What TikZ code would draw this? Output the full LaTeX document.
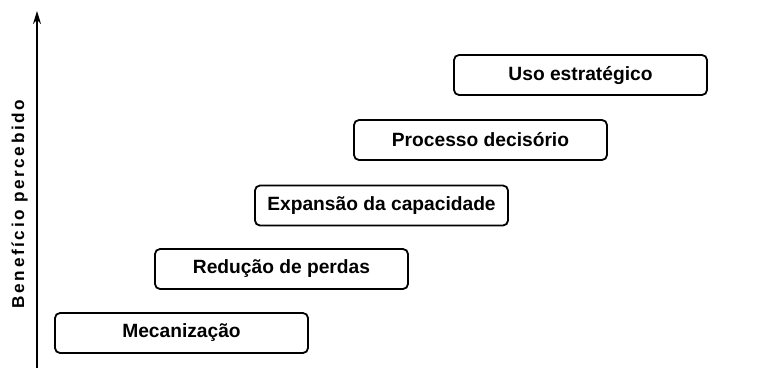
\documentclass[tikz,border=0pt]{standalone}
\usepackage{fontspec}
\setmainfont{Liberation Sans}
\newfontfamily\labfont[LetterSpace=15]{Liberation Sans}
\usetikzlibrary{arrows.meta}
\begin{document}
\begin{tikzpicture}[x=1pt,y=-1pt,
  stagebox/.style={draw=black,line width=1.8pt,rounded corners=5pt,
    minimum width=253pt,minimum height=40pt,inner sep=0pt,
    font=\fontsize{19.2}{22}\selectfont\bfseries,fill=white},
  axisline/.style={line width=2pt,-{Stealth[length=13pt,width=8pt]}}]
\useasboundingbox (0,0) rectangle (767,367);
\coordinate (axbot) at (37,368);
\coordinate (axtop) at (37,11);
\draw[axisline] (axbot) -- (axtop);
\node[rotate=90,font=\labfont\fontsize{17.2}{20}\selectfont\bfseries] (ylab) at (19.5,204) {Benefício percebido};
\node[stagebox] (s1) at (181.5,333) {Mecanização};
\node[stagebox] (s2) at (281.5,269) {Redução de perdas};
\node[stagebox] (s3) at (381.5,205.5) {Expansão da capacidade};
\node[stagebox] (s4) at (480.5,140) {Processo decisório};
\node[stagebox] (s5) at (580.5,75) {Uso estratégico};
\end{tikzpicture}
\end{document}
